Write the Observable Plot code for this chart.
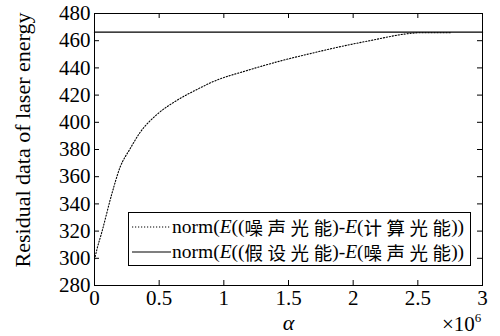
<!DOCTYPE html>
<html>
<head>
<meta charset="utf-8">
<script src="https://cdn.jsdelivr.net/npm/d3@7"></script>
<script src="https://cdn.jsdelivr.net/npm/@observablehq/plot@0.6"></script>
<style>
  body { margin: 0; background: #fff; }
  #wrap { position: relative; width: 500px; height: 336px; }
  #wrap > svg { position: absolute; left: 0; top: 0; }
  #wrap svg text, .legend, .mult, .ylabel { font-family: "Liberation Serif", "Times New Roman", "DejaVu Serif", serif !important; }
  .legend { position: absolute; left: 128px; top: 212px; width: 343px; height: 54px; box-sizing: border-box;
            border: 1px solid #000; background: #fff; font-size: 19.5px; color: #000; }
  .row { position: absolute; left: 0; height: 25px; display: flex; align-items: center; white-space: nowrap; }
  .row svg { margin-left: 3px; margin-right: 1px; }
  .legend .cjk { font-family: "Noto Sans CJK SC", sans-serif !important; font-size: 18.5px; }
  .legend .gap { margin-right: 4.5px; }
  .mult { position: absolute; left: 442px; top: 314px; font-size: 21px; line-height: 1; color: #000; }
  .mult sup { font-size: 13px; vertical-align: top; position: relative; top: -3px; }
  .ylabel { position: absolute; left: -127px; top: 128px; width: 300px; line-height: 24px; text-align: center;
            font-size: 22px; color: #000; transform: rotate(-90deg); white-space: nowrap; }
</style>
</head>
<body>
<div id="wrap"></div>
<script>
// Residual norm of the noisy vs computed laser energy as α grows (dotted curve)
const alphaValues = [0, 0.02e6, 0.056e6, 0.133e6, 0.198e6, 0.275e6, 0.352e6, 0.48e6, 0.635e6, 0.80e6, 0.92e6,
                     1.177e6, 1.434e6, 1.69e6, 1.871e6, 2.128e6, 2.436e6, 2.5e6, 2.75e6];
const residualValues = [299, 307, 319, 347, 367, 380.5, 392.5, 405.5, 416, 424.5, 430,
                        438, 445, 451, 455, 460, 465.3, 465.8, 465.8];

// Constant residual between assumed and noisy energy (solid line)
const constAlpha = [0, 3e6];
const constResidual = [466.3, 466.3];

const xTicks = [0, 0.5e6, 1e6, 1.5e6, 2e6, 2.5e6, 3e6];
const yTicks = [280, 300, 320, 340, 360, 380, 400, 420, 440, 460, 480];

const legendLabels = [
  ["噪声光能", "计算光能"],
  ["假设光能", "噪声光能"]
];

const curve = alphaValues.map((a, i) => ({a, r: residualValues[i]}));
const flat = constAlpha.map((a, i) => ({a, r: constResidual[i]}));

const width = 500, height = 336;
const mt = 13, mb = 51, ml = 94, mr = 18;
const innerH = height - mt - mb;
const innerW = width - ml - mr;
const tick = 5;

const chart = Plot.plot({
  width, height,
  marginTop: mt, marginBottom: mb, marginLeft: ml, marginRight: mr,
  style: {background: "#fff", color: "#000"},
  x: {domain: [0, 3e6]},
  y: {domain: [280, 480]},
  marks: [
    Plot.frame({stroke: "#000", strokeWidth: 1}),
    // inward ticks on all four sides
    Plot.tickX(xTicks, {x: d => d, insetTop: innerH - tick, stroke: "#000"}),
    Plot.tickX(xTicks, {x: d => d, insetBottom: innerH - tick, stroke: "#000"}),
    Plot.tickY(yTicks, {y: d => d, insetRight: innerW - tick, stroke: "#000"}),
    Plot.tickY(yTicks, {y: d => d, insetLeft: innerW - tick, stroke: "#000"}),
    Plot.axisX(xTicks, {tickSize: 0, tickPadding: 5, fontSize: 21, tickFormat: d => String(d / 1e6), label: null}),
    Plot.axisY(yTicks, {tickSize: 0, tickPadding: 4, fontSize: 21, tickFormat: d => String(d), label: null}),
    Plot.axisX({ticks: [], label: "α", labelAnchor: "center", labelArrow: "none", labelOffset: 44, fontSize: 22, fontStyle: "italic"}),
    Plot.line(flat, {x: "a", y: "r", stroke: "#000", strokeWidth: 1.3}),
    Plot.line(curve, {x: "a", y: "r", stroke: "#000", strokeWidth: 1.1, strokeDasharray: "1.2,1.8", curve: "monotone-x"})
  ]
});

const wrap = document.getElementById("wrap");
wrap.appendChild(chart);

// y axis title
const ylabel = document.createElement("div");
ylabel.className = "ylabel";
ylabel.textContent = "Residual data of laser energy";
wrap.appendChild(ylabel);

// exponent note for the x axis
const mult = document.createElement("div");
mult.className = "mult";
mult.innerHTML = "×10<sup>6</sup>";
wrap.appendChild(mult);

// spaced-out Chinese words inside the legend labels
const cjk = s => `<span class="cjk">` +
  [...s].map((c, j, a) => j < a.length - 1 ? `<span class="gap">${c}</span>` : c).join("") + `</span>`;

// legend box
const legend = document.createElement("div");
legend.className = "legend";
const dashes = ["1.2,1.8", null];
legendLabels.forEach(([p, q], i) => {
  const row = document.createElement("div");
  row.className = "row";
  row.style.top = (1 + i * 25) + "px";
  const dash = dashes[i] ? `stroke-dasharray="${dashes[i]}"` : "";
  row.innerHTML =
    `<svg width="39" height="4"><line x1="0" x2="39" y1="2" y2="2" stroke="#000" stroke-width="1.2" ${dash}/></svg>` +
    `<span>norm(<i>E</i>((</span>${cjk(p)}<span>)-<i>E</i>(</span>${cjk(q)}<span>))</span>`;
  legend.appendChild(row);
});
wrap.appendChild(legend);
</script>
</body>
</html>
